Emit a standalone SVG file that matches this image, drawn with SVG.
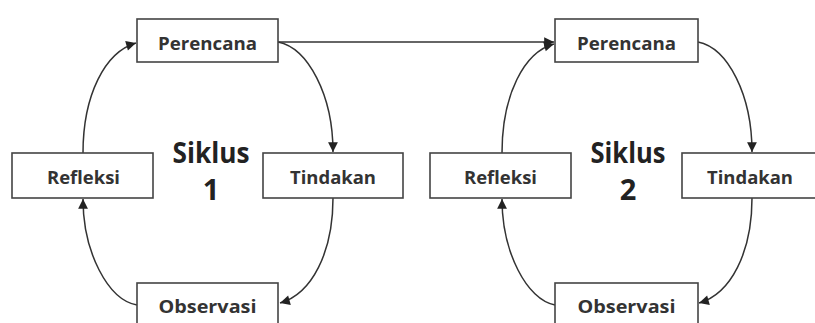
<svg xmlns="http://www.w3.org/2000/svg" width="815" height="323" viewBox="0 0 815 323">
<style>
.box{fill:#fff;stroke:#444;stroke-width:1.6}
.lbl{font-family:"Open Sans","DejaVu Sans",sans-serif;font-weight:bold;font-size:17.5px;fill:#333;text-anchor:middle}
.big{font-family:"Open Sans","DejaVu Sans",sans-serif;font-weight:bold;font-size:29px;fill:#222;text-anchor:middle}
.con{fill:none;stroke:#333;stroke-width:1.5;marker-end:url(#ah)}
</style>
<defs>
<marker id="ah" viewBox="0 0 10 10" refX="10" refY="5" markerWidth="7" markerHeight="7" markerUnits="userSpaceOnUse" orient="auto" style="overflow:visible">
<path d="M0,0 L10,5 L0,10 z" fill="#222" transform="scale(1.4) translate(-2.9,-1.4)"/>
</marker>
</defs>
<rect width="815" height="323" fill="#fff"/>
<g id="connectors">
<path class="con" d="M83,153 C83,95 105,52 136,43"/>
<path class="con" d="M278,42 C308,48 333,95 333,152"/>
<path class="con" d="M333,198 C333,252 312,294 280,303"/>
<path class="con" d="M137,305 C108,300 83,252 83,199"/>
<path class="con" d="M278,42 L554,42"/>
<path class="con" d="M502,153 C502,95 524,52 554,44"/>
<path class="con" d="M698,42 C728,48 752,95 752,152"/>
<path class="con" d="M752,198 C752,252 731,294 699,303"/>
<path class="con" d="M555,305 C527,300 502,252 502,199"/>
</g>
<g id="perencana1"><rect class="box" x="137" y="19" width="141" height="43"/><text class="lbl" x="207.5" y="49.5" textLength="99" lengthAdjust="spacingAndGlyphs">Perencana</text></g>
<g id="refleksi1"><rect class="box" x="12" y="153" width="141" height="45"/><text class="lbl" x="83.5" y="184" textLength="73" lengthAdjust="spacingAndGlyphs">Refleksi</text></g>
<g id="tindakan1"><rect class="box" x="263" y="153" width="140" height="45"/><text class="lbl" x="333" y="184" textLength="86" lengthAdjust="spacingAndGlyphs">Tindakan</text></g>
<g id="observasi1"><rect class="box" x="137" y="283" width="141" height="45"/><text class="lbl" x="207.5" y="313" textLength="98" lengthAdjust="spacingAndGlyphs">Observasi</text></g>
<g id="siklus1"><text class="big" x="211" y="163" textLength="77" lengthAdjust="spacingAndGlyphs">Siklus</text><text class="big" x="211" y="200">1</text></g>
<g id="perencana2"><rect class="box" x="555" y="19" width="143" height="43"/><text class="lbl" x="626.5" y="49.5" textLength="99" lengthAdjust="spacingAndGlyphs">Perencana</text></g>
<g id="refleksi2"><rect class="box" x="430" y="153" width="141" height="45"/><text class="lbl" x="500.5" y="184" textLength="73" lengthAdjust="spacingAndGlyphs">Refleksi</text></g>
<g id="tindakan2"><rect class="box" x="682" y="153" width="141" height="45"/><text class="lbl" x="750" y="184" textLength="86" lengthAdjust="spacingAndGlyphs">Tindakan</text></g>
<g id="observasi2"><rect class="box" x="555" y="283" width="143" height="45"/><text class="lbl" x="626.5" y="313" textLength="98" lengthAdjust="spacingAndGlyphs">Observasi</text></g>
<g id="siklus2"><text class="big" x="628" y="163" textLength="75" lengthAdjust="spacingAndGlyphs">Siklus</text><text class="big" x="628" y="200">2</text></g>
</svg>
